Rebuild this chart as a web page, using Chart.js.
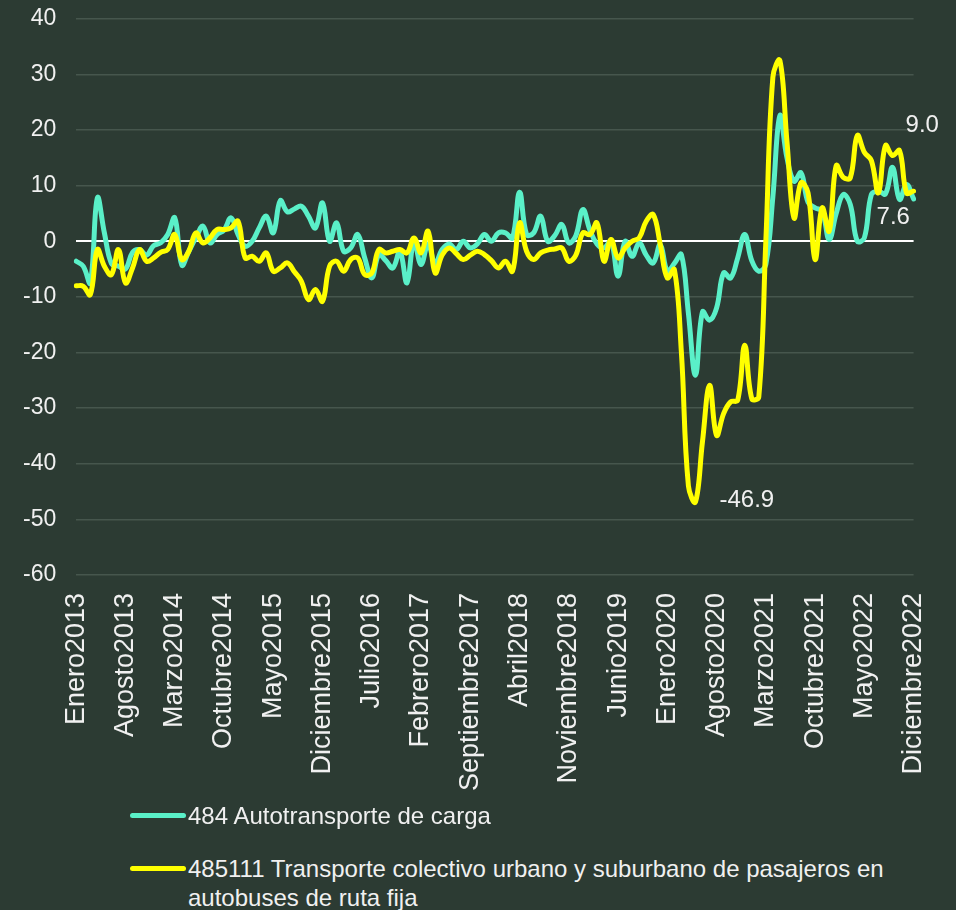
<!DOCTYPE html>
<html>
<head>
<meta charset="utf-8">
<script src="https://cdn.jsdelivr.net/npm/chart.js@4"></script>
<style>
  body { margin: 0; background: #2c3b33; }
  #wrap { position: relative; width: 956px; height: 910px; overflow: hidden; background: #2c3b33; font-family: "Liberation Sans", Arial, sans-serif; color: #f0f0f0; }
  #chart { position: absolute; left: 0; top: -15px; }
  .legend-item { position: absolute; left: 130px; font-size: 24px; line-height: 29px; }
  .legend-item .swatch { position: absolute; left: 0; top: 12px; width: 56px; height: 5px; border-radius: 3px; }
  .legend-item .text { margin-left: 58px; width: 720px; }
</style>
</head>
<body>
<div id="wrap">
  <canvas id="chart" width="956" height="836"></canvas>
  <div class="legend-item" style="top: 801px;">
    <div class="swatch" style="background:#5af0c8"></div>
    <div class="text" id="legend-a"></div>
  </div>
  <div class="legend-item" style="top: 854px;">
    <div class="swatch" style="background:#ffff00"></div>
    <div class="text" id="legend-b"></div>
  </div>
</div>
<script>
const monthNames = ["Enero", "Febrero", "Marzo", "Abril", "Mayo", "Junio", "Julio",
  "Agosto", "Septiembre", "Octubre", "Noviembre", "Diciembre"];
const years = [2013, 2014, 2015, 2016, 2017, 2018, 2019, 2020, 2021, 2022];
const labelEvery = 7;

const seriesNames = [
  "484 Autotransporte de carga",
  "485111 Transporte colectivo urbano y suburbano de pasajeros en autobuses de ruta fija"
];

// 484 Autotransporte de carga, Ene 2013 - Dic 2022
const cargaValues = [
  -3.6, -4.5, -7.5, 7.8, 1.5, -4.0, -4.5, -5.0, -2.0, -1.5, -2.5, -0.8,
  -0.3, 1.2, 4.2, -4.3, -1.8, 0.6, 2.7, -0.3, 1.2, 2.0, 4.2, 1.2,
  -0.9, 0.0, 2.4, 4.5, 1.5, 7.3, 5.3, 5.8, 6.3, 4.5, 2.4, 6.9,
  0.0, 3.3, -1.8, -1.2, 1.2, -3.0, -6.6, -2.4, -3.5, -4.8, -1.8, -7.5,
  0.0, -4.2, -0.5, -4.0, -1.5, -0.5, -1.5, 0.0, -1.2, -0.5, 1.2, 0.0,
  1.5, 1.5, 0.6, 8.8, 1.2, 1.5, 4.5, 0.0, 1.0, 3.0, -0.3, 1.0,
  5.7, 2.0, -0.5, -1.2, 0.0, -6.3, 0.0, -2.7, -0.3, -2.5, -3.9, -0.6,
  -5.4, -4.0, -2.4, -13.0, -24.1, -12.7, -14.2, -12.0, -5.7, -6.6, -3.0, 1.2,
  -3.5, -5.4, -4.2, 8.0, 22.6, 15.0, 10.8, 12.3, 7.0, 6.0, 5.4, 0.3,
  5.0, 8.4, 6.6, 0.0, 0.6, 8.4, 9.0, 8.5, 13.3, 7.5, 10.2, 7.6
];

// 485111 Transporte colectivo urbano y suburbano
const colectivoValues = [
  -8.0, -8.1, -9.6, -1.5, -4.5, -6.0, -1.5, -7.5, -4.8, -1.5, -3.6, -3.0,
  -2.0, -1.5, 1.2, -3.3, -1.8, 1.5, -0.3, 0.6, 2.1, 2.1, 2.4, 3.6,
  -3.0, -2.7, -3.6, -2.1, -5.4, -4.8, -3.9, -5.5, -7.2, -10.5, -8.7, -10.8,
  -4.5, -3.6, -5.4, -3.3, -3.0, -6.0, -5.7, -1.5, -2.1, -1.8, -1.5, -2.1,
  0.6, -2.1, 1.8, -5.7, -2.5, -1.2, -2.2, -3.3, -2.5, -1.8, -2.4, -3.5,
  -4.8, -3.6, -5.4, 3.3, -1.8, -3.3, -2.1, -1.6, -1.4, -1.2, -3.6, -2.5,
  1.5, 1.2, 3.3, -3.6, 0.3, -3.0, -1.2, 0.0, 0.6, 3.6, 4.8, -0.6,
  -6.6, -5.1, -20.0, -44.0, -46.9, -36.0, -25.9, -34.9, -31.0, -28.9, -28.6, -18.7,
  -28.3, -28.0, 0.0, 29.5, 32.5, 18.0, 4.2, 10.5, 8.7, -3.3, 6.0, 1.8,
  13.6, 11.5, 11.4, 19.0, 16.0, 14.5, 8.7, 17.2, 15.4, 16.3, 8.7, 9.0
];

const yMin = -60;
const yMax = 40;
const yStep = 10;

const months = [];
years.forEach((y) => monthNames.forEach((m) => months.push(m + y)));

// value labels shown on the chart: [dataset, index, text]
const valueLabels = [
  [1, 88, "-46.9"],
  [1, 119, "9.0"],
  [0, 119, "7.6"]
];

document.getElementById("legend-a").textContent = seriesNames[0];
document.getElementById("legend-b").textContent = seriesNames[1];

const textColor = "#f0f0f0";
const gridColor = "#46564d";

const valueLabelPlugin = {
  id: "valueLabels",
  afterDatasetsDraw(chart) {
    const ctx = chart.ctx;
    const offsets = { "-46.9": [24, -2, "left"], "9.0": [-8, -66, "left"], "7.6": [-37, 18, "left"] };
    ctx.save();
    ctx.font = "24px 'Liberation Sans', Arial, sans-serif";
    ctx.fillStyle = textColor;
    ctx.textBaseline = "middle";
    valueLabels.forEach(([ds, idx, text]) => {
      const pt = chart.getDatasetMeta(ds).data[idx];
      const [dx, dy, align] = offsets[text];
      ctx.textAlign = align;
      ctx.fillText(text, pt.x + dx, pt.y + dy);
    });
    ctx.restore();
  }
};

new Chart(document.getElementById("chart"), {
  type: "line",
  data: {
    labels: months,
    datasets: [
      {
        label: seriesNames[0],
        data: cargaValues,
        borderColor: "#5af0c8",
        borderWidth: 5,
        order: 1
      },
      {
        label: seriesNames[1],
        data: colectivoValues,
        borderColor: "#ffff00",
        borderWidth: 5,
        order: 0
      }
    ]
  },
  plugins: [valueLabelPlugin],
  options: {
    responsive: false,
    animation: false,
    layout: { padding: { left: 3, right: 22, top: 6, bottom: 20 } },
    elements: {
      point: { radius: 0 },
      line: { tension: 0.4, borderCapStyle: "round", borderJoinStyle: "round", fill: false }
    },
    plugins: {
      legend: { display: false },
      tooltip: { enabled: false }
    },
    scales: {
      x: {
        offset: false,
        grid: { display: false },
        border: { display: false },
        ticks: {
          autoSkip: false,
          maxRotation: 90,
          minRotation: 90,
          padding: 10,
          color: textColor,
          font: { family: "'Liberation Sans', Arial, sans-serif", size: 27 },
          callback: (val, i) => (i % labelEvery === 0 ? months[i] : null)
        }
      },
      y: {
        min: yMin,
        max: yMax,
        border: { display: false },
        grid: {
          drawTicks: false,
          color: (c) => (c.tick.value === 0 ? "#ffffff" : gridColor),
          lineWidth: (c) => (c.tick.value === 0 ? 2 : 1.5)
        },
        ticks: {
          stepSize: yStep,
          padding: 20,
          color: textColor,
          font: { family: "'Liberation Sans', Arial, sans-serif", size: 23 }
        }
      }
    }
  }
});
</script>
</body>
</html>
